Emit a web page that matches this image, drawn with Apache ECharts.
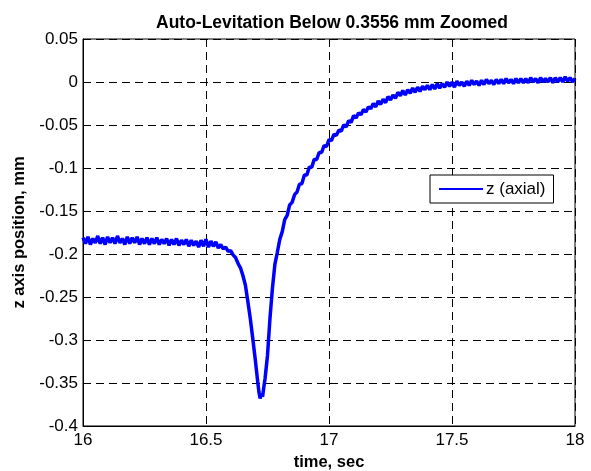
<!DOCTYPE html>
<html>
<head>
<meta charset="utf-8">
<script src="https://cdn.jsdelivr.net/npm/echarts@6/dist/echarts.min.js"></script>
<style>
html,body{margin:0;padding:0;background:#fff;}
#c{width:591px;height:471px;}
</style>
</head>
<body>
<div id="c"></div>
<script>
var titleText = 'Auto-Levitation Below 0.3556 mm Zoomed';
var xName = 'time, sec';
var yName = 'z axis position, mm';
var seriesName = 'z (axial)';

var time = [
16.00,16.01,16.02,16.03,16.04,16.05,16.06,16.07,16.08,16.09,
16.10,16.11,16.12,16.13,16.14,16.15,16.16,16.17,16.18,16.19,
16.20,16.21,16.22,16.23,16.24,16.25,16.26,16.27,16.28,16.29,
16.30,16.31,16.32,16.33,16.34,16.35,16.36,16.37,16.38,16.39,
16.40,16.41,16.42,16.43,16.44,16.45,16.46,16.47,16.48,16.49,
16.50,16.51,16.52,16.53,16.54,16.55,16.56,16.57,16.58,16.59,
16.60,16.61,16.62,16.63,16.64,16.65,16.66,16.67,16.68,16.69,
16.70,16.71,16.715,16.72,16.725,16.73,16.735,16.74,16.75,16.76,
16.77,16.78,16.79,16.80,16.81,16.82,16.83,16.84,16.85,16.86,
16.87,16.88,16.89,16.90,16.91,16.92,16.93,16.94,16.95,16.96,
16.97,16.98,16.99,17.00,17.01,17.02,17.03,17.04,17.05,17.06,
17.07,17.08,17.09,17.10,17.11,17.12,17.13,17.14,17.15,17.16,
17.17,17.18,17.19,17.20,17.21,17.22,17.23,17.24,17.25,17.26,
17.27,17.28,17.29,17.30,17.31,17.32,17.33,17.34,17.35,17.36,
17.37,17.38,17.39,17.40,17.41,17.42,17.43,17.44,17.45,17.46,
17.47,17.48,17.49,17.50,17.51,17.52,17.53,17.54,17.55,17.56,
17.57,17.58,17.59,17.60,17.61,17.62,17.63,17.64,17.65,17.66,
17.67,17.68,17.69,17.70,17.71,17.72,17.73,17.74,17.75,17.76,
17.77,17.78,17.79,17.80,17.81,17.82,17.83,17.84,17.85,17.86,
17.87,17.88,17.89,17.90,17.91,17.92,17.93,17.94,17.95,17.96,
17.97,17.98,17.99,18.00
];

var zAxial = [
-0.181,-0.188,-0.180,-0.189,-0.182,-0.187,-0.179,-0.188,-0.181,-0.189,
-0.180,-0.187,-0.181,-0.188,-0.179,-0.187,-0.182,-0.189,-0.180,-0.188,
-0.181,-0.187,-0.180,-0.189,-0.182,-0.188,-0.181,-0.189,-0.182,-0.188,
-0.181,-0.189,-0.183,-0.188,-0.182,-0.190,-0.183,-0.189,-0.182,-0.190,
-0.184,-0.189,-0.183,-0.191,-0.184,-0.190,-0.185,-0.192,-0.184,-0.191,
-0.183,-0.192,-0.185,-0.191,-0.186,-0.193,-0.189,-0.194,-0.192,-0.197,
-0.196,-0.201,-0.204,-0.211,-0.216,-0.225,-0.236,-0.255,-0.275,-0.298,
-0.322,-0.348,-0.360,-0.368,-0.362,-0.366,-0.355,-0.345,-0.318,-0.275,
-0.240,-0.212,-0.198,-0.183,-0.174,-0.160,-0.155,-0.143,-0.140,-0.131,
-0.128,-0.119,-0.118,-0.108,-0.108,-0.099,-0.099,-0.090,-0.090,-0.082,
-0.082,-0.074,-0.075,-0.067,-0.068,-0.061,-0.062,-0.056,-0.057,-0.050,
-0.052,-0.045,-0.047,-0.039,-0.042,-0.036,-0.038,-0.032,-0.035,-0.029,
-0.031,-0.025,-0.029,-0.022,-0.026,-0.020,-0.024,-0.017,-0.021,-0.015,
-0.019,-0.012,-0.016,-0.010,-0.015,-0.009,-0.013,-0.007,-0.012,-0.006,
-0.011,-0.005,-0.009,-0.004,-0.009,-0.003,-0.008,-0.002,-0.007,-0.002,
-0.006,0.000,-0.005,0.000,-0.006,0.001,-0.004,0.000,-0.005,0.001,
-0.004,0.002,-0.003,0.001,-0.004,0.002,-0.003,0.003,-0.002,0.002,
-0.003,0.003,-0.002,0.003,-0.002,0.004,-0.001,0.003,-0.002,0.004,
-0.001,0.004,-0.001,0.004,-0.001,0.005,0.000,0.004,-0.001,0.005,
0.000,0.004,0.000,0.005,-0.001,0.005,0.000,0.005,0.000,0.006,
0.001,0.005,0.000,0.004
];

var points = time.map(function (t, i) { return [t, zAxial[i]]; });

var chart = echarts.init(document.getElementById('c'), null, {renderer: 'canvas'});
var FONT = 'Liberation Sans, Arial, Helvetica, sans-serif';
chart.setOption({
  backgroundColor: '#fff',
  animation: false,
  title: {
    text: titleText,
    left: 327, top: 9, textAlign: 'center',
    textStyle: {fontFamily: FONT, fontSize: 17.5, fontWeight: 'bold', color: '#000'}
  },
  legend: {
    data: [{name: seriesName, icon: 'rect'}],
    left: 430, top: 175,
    orient: 'horizontal',
    padding: [5, 8, 5, 9],
    itemWidth: 44, itemHeight: 2, itemGap: 4,
    borderColor: '#000', borderWidth: 1, borderRadius: 0,
    backgroundColor: '#fff',
    textStyle: {fontFamily: FONT, fontSize: 17, color: '#000', lineHeight: 18, padding: [0,0,0,-2]}
  },
  grid: {
    left: 83, right: 16, top: 39, bottom: 45,
    show: true, borderColor: '#000', borderWidth: 1,
    containLabel: false, outerBoundsMode: 'none'
  },
  xAxis: {
    type: 'value', min: 16, max: 18, interval: 0.5,
    name: xName, nameLocation: 'middle', nameGap: 28,
    nameTextStyle: {fontFamily: FONT, fontSize: 16.5, fontWeight: 'bold', color: '#000'},
    axisLine: {show: true, onZero: false, lineStyle: {color: '#000', width: 1}},
    axisTick: {show: false},
    axisLabel: {fontFamily: FONT, fontSize: 17, color: '#000', margin: 6,
      formatter: function (v) { return String(+v.toFixed(4)); }},
    splitLine: {show: true, lineStyle: {color: '#000', width: 1, type: [8, 5]}}
  },
  yAxis: {
    type: 'value', min: -0.4, max: 0.05, interval: 0.05,
    name: yName, nameLocation: 'middle', nameGap: 51, nameRotate: 90,
    nameTextStyle: {fontFamily: FONT, fontSize: 16.5, fontWeight: 'bold', color: '#000'},
    axisLine: {show: true, onZero: false, lineStyle: {color: '#000', width: 1}},
    axisTick: {show: false},
    axisLabel: {fontFamily: FONT, fontSize: 17, color: '#000', margin: 5,
      formatter: function (v) { return String(+v.toFixed(4)); }},
    splitLine: {show: true, lineStyle: {color: '#000', width: 1, type: [8, 5]}}
  },
  series: [{
    name: seriesName,
    type: 'line',
    data: points,
    symbol: 'none',
    showSymbol: false,
    smooth: false,
    lineStyle: {color: '#0000ff', width: 3.5},
    itemStyle: {color: '#0000ff'},
    z: 5
  }]
});
</script>
</body>
</html>
